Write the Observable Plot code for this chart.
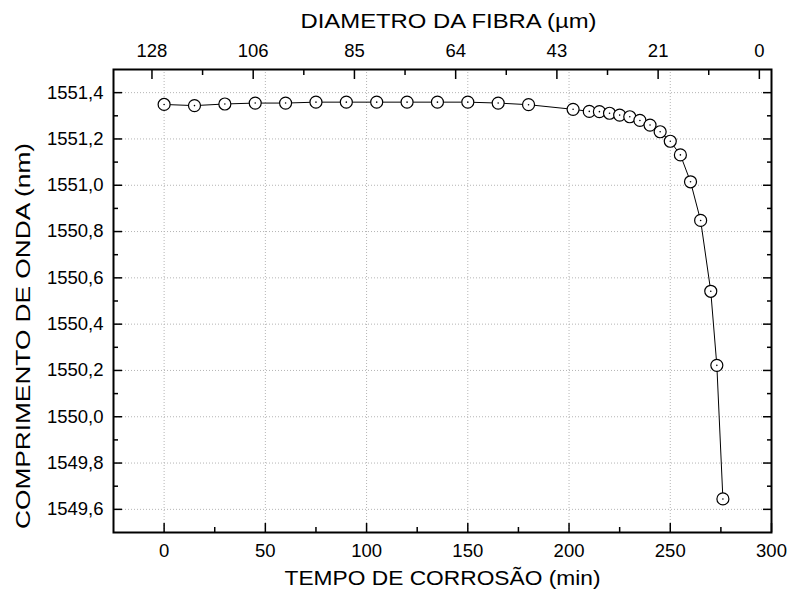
<!DOCTYPE html>
<html>
<head>
<meta charset="utf-8">
<script src="https://cdn.jsdelivr.net/npm/d3@7"></script>
<script src="https://cdn.jsdelivr.net/npm/@observablehq/plot@0.6"></script>
<style>
  html, body { margin: 0; padding: 0; background: #fff; }
  #chart { width: 790px; height: 597px; }
</style>
</head>
<body>
<div id="chart"></div>
<script>
// Corrosion time (min)
const time = [0, 15, 30, 45, 60, 75, 90, 105, 120, 135, 150, 165, 180, 202, 210, 215, 220, 225, 230, 235, 240, 245, 250, 255, 260, 265, 270, 273, 276];
// Bragg wavelength (nm)
const wavelength = [1551.349, 1551.344, 1551.351, 1551.355, 1551.355, 1551.359, 1551.359, 1551.359, 1551.359, 1551.359, 1551.359, 1551.355, 1551.348, 1551.328, 1551.319, 1551.318, 1551.311, 1551.303, 1551.296, 1551.280, 1551.260, 1551.231, 1551.190, 1551.131, 1551.015, 1550.848, 1550.542, 1550.222, 1549.645];

// bottom axis ticks
const xMajor = [0, 50, 100, 150, 200, 250, 300];
const xMinor = [25, 75, 125, 175, 225, 275];
// left axis ticks
const yMajor = [1549.6, 1549.8, 1550.0, 1550.2, 1550.4, 1550.6, 1550.8, 1551.0, 1551.2, 1551.4];
const yMinor = [1549.7, 1549.9, 1550.1, 1550.3, 1550.5, 1550.7, 1550.9, 1551.1, 1551.3];
// top axis: fibre diameter labels placed at the corresponding corrosion times
const topTickTimes = [-6, 44, 94, 144, 194, 244, 294];
const topTickLabels = ["128", "106", "85", "64", "43", "21", "0"];
const topMinorTimes = [19, 69, 119, 169, 219, 269];

const xTitle = "TEMPO DE CORROSÃO (min)";
const yTitle = "COMPRIMENTO DE ONDA (nm)";
const topTitle = "DIAMETRO DA FIBRA (\u00B5m)";

const data = time.map((t, i) => ({t, w: wavelength[i]}));
const topMap = new Map(topTickTimes.map((t, i) => [t, topTickLabels[i]]));
const fmtY = d => d.toFixed(1).replace(".", ",");

const gridStyle = {stroke: "#b4b4b4", strokeOpacity: 1, strokeDasharray: "1,2", strokeWidth: 1};
const tickStroke = {stroke: "black", strokeWidth: 1.5, label: null};
const tickFont = 18.5;

const chart = Plot.plot({
  width: 790,
  height: 597,
  marginLeft: 113,
  marginRight: 19,
  marginTop: 69,
  marginBottom: 65,
  style: {fontFamily: "'Liberation Sans', Arial, sans-serif", fontSize: "18px", color: "black", background: "white"},
  x: {domain: [-25, 300], label: null},
  y: {domain: [1549.5, 1551.5], label: null},
  marks: [
    Plot.gridX(xMajor.filter(d => d < 300), gridStyle),
    Plot.gridY(yMajor, gridStyle),
    // bottom axis
    Plot.axisX(xMajor, {anchor: "bottom", tickSize: -9, tickPadding: 20, fontSize: tickFont, ...tickStroke}),
    Plot.axisX(xMinor, {anchor: "bottom", tickSize: -5, tickFormat: () => "", ...tickStroke}),
    // top axis
    Plot.axisX(topTickTimes, {anchor: "top", tickSize: -9, tickPadding: 22, fontSize: tickFont, tickFormat: d => topMap.get(d), ...tickStroke}),
    Plot.axisX(topMinorTimes, {anchor: "top", tickSize: -5, tickFormat: () => "", ...tickStroke}),
    // left axis
    Plot.axisY(yMajor, {anchor: "left", tickSize: -9, tickPadding: 19, fontSize: tickFont, tickFormat: fmtY, ...tickStroke}),
    Plot.axisY(yMinor, {anchor: "left", tickSize: -5, tickFormat: () => "", ...tickStroke}),
    // right axis (ticks only)
    Plot.axisY(yMajor, {anchor: "right", tickSize: -9, tickFormat: () => "", ...tickStroke}),
    Plot.axisY(yMinor, {anchor: "right", tickSize: -5, tickFormat: () => "", ...tickStroke}),
    Plot.frame({stroke: "black", strokeWidth: 2}),
    // axis titles
    Plot.text([topTitle], {frameAnchor: "top", textAnchor: "middle", lineAnchor: "middle", dx: 6, dy: -48, fontSize: 21, text: d => d}),
    Plot.text([xTitle], {frameAnchor: "bottom", textAnchor: "middle", lineAnchor: "middle", dy: 46, fontSize: 21, text: d => d}),
    Plot.text([yTitle], {frameAnchor: "left", textAnchor: "middle", lineAnchor: "middle", dx: -90, dy: 35, rotate: -90, fontSize: 21, text: d => d}),
    // data
    Plot.line(data, {x: "t", y: "w", stroke: "black", strokeWidth: 1}),
    Plot.dot(data, {x: "t", y: "w", r: 6, fill: "white", stroke: "black", strokeWidth: 1.2}),
    Plot.dot(data, {x: "t", y: "w", r: 0.8, fill: "black", stroke: null})
  ]
});

// the reference lettering of the axis titles is slightly wider than Arial
const stretch = new Map([[topTitle, 296], [xTitle, 316], [yTitle, 386]]);
d3.select(chart).selectAll("text").each(function () {
  const L = stretch.get(this.textContent);
  if (L) {
    this.setAttribute("textLength", L);
    this.setAttribute("lengthAdjust", "spacingAndGlyphs");
  }
});
document.getElementById("chart").appendChild(chart);
</script>
</body>
</html>
